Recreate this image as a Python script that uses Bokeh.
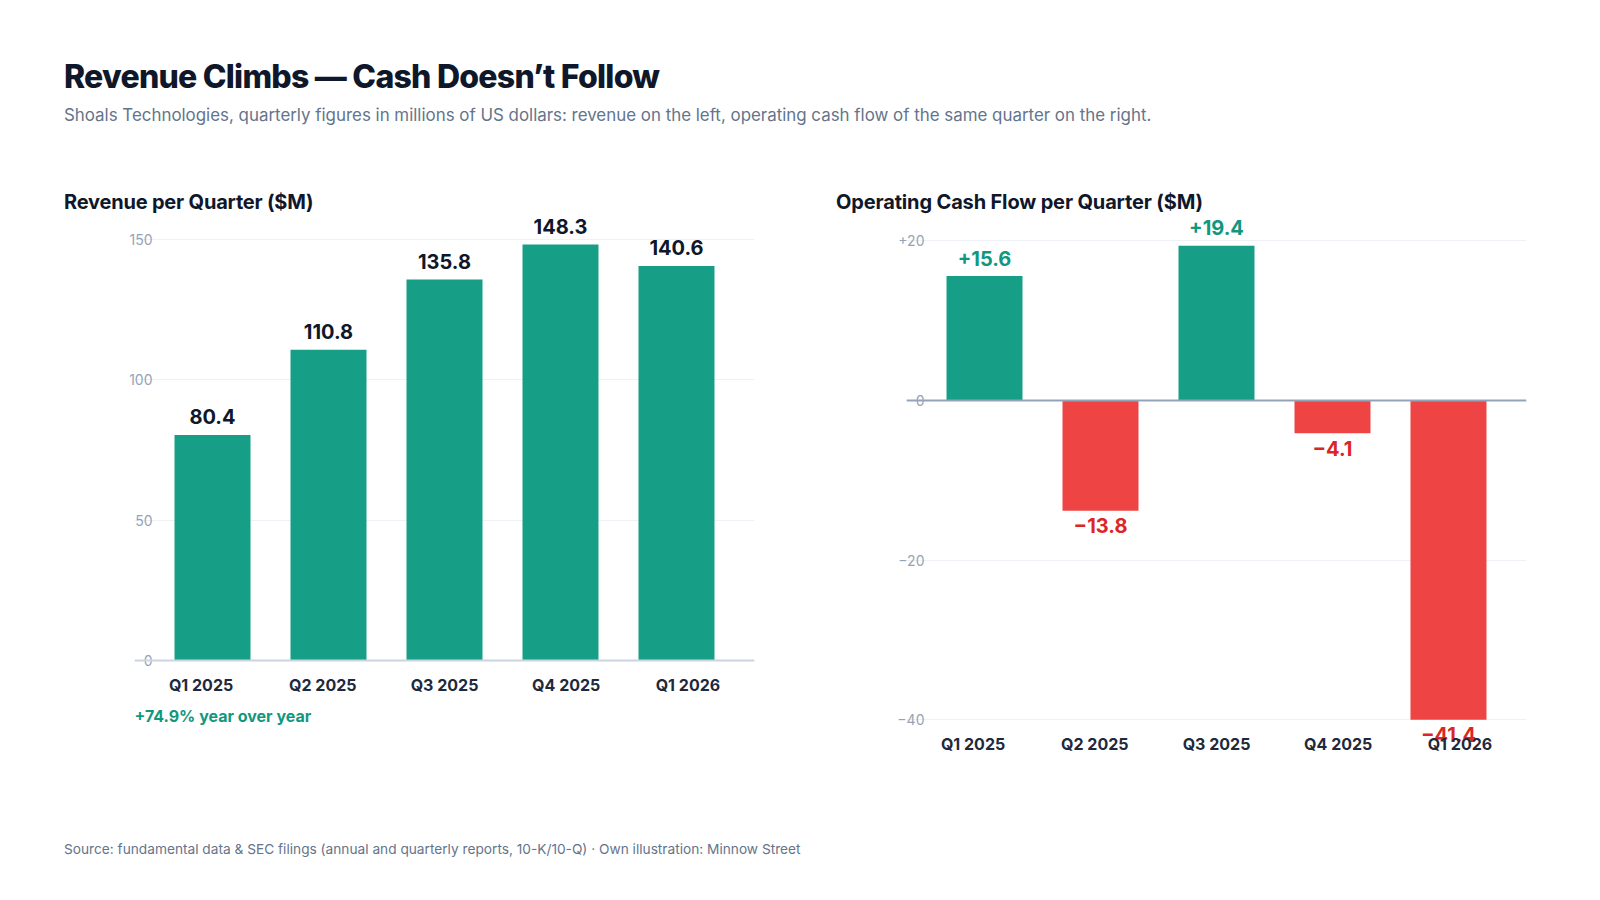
from bokeh.plotting import figure
from bokeh.models import (ColumnDataSource, FactorRange, Range1d, FixedTicker,
                          CategoricalAxis, LabelSet, Span, Div, Grid)
from bokeh.layouts import column, row
from bokeh.embed import file_html
from bokeh.resources import INLINE
from bokeh.core.properties import value

# ---------------- data ----------------
quarters = ["Q1 2025", "Q2 2025", "Q3 2025", "Q4 2025", "Q1 2026"]
revenue = [80.4, 110.8, 135.8, 148.3, 140.6]
cash_flow = [15.6, -13.8, 19.4, -4.1, -41.4]
revenue_ticks = [0, 50, 100, 150]
cash_ticks = [20, 0, -20, -40]
cash_tick_labels = ["+20", "0", "\u221220", "\u221240"]
yoy_note = ["+74.9% year over year"]

title_text = "Revenue Climbs \u2014 Cash Doesn\u2019t Follow"
subtitle_text = ("Shoals Technologies, quarterly figures in millions of US dollars: "
                 "revenue on the left, operating cash flow of the same quarter on the right.")
left_title = "Revenue per Quarter ($M)"
right_title = "Operating Cash Flow per Quarter ($M)"
source_text = ("Source: fundamental data &amp; SEC filings (annual and quarterly reports, "
               "10-K/10-Q) \u00b7 Own illustration: Minnow Street")

# ---------------- styles ----------------
FONT = "Inter"
GREEN = "#169e87"
GREEN_TXT = "#12977f"
RED = "#ef4444"
RED_TXT = "#dc2626"
DARK = "#0f172a"
AXIS_DARK = "#1e293b"
TICK_GREY = "#94a3b8"
GRID = "#eef1f5"
HEADER_H = 214
FIG_H = 600
BORDER_BOTTOM = 62
REV_RANGE = (-32.8, 159.0)
CASH_AXIS_MIN = -40
CASH_RANGE = (-44.1, 23.31)


def fmt_signed(v):
    return ("+" if v >= 0 else "\u2212") + f"{abs(v):.1f}"


def make_fig(width, y_range, border_left, border_right, label_standoff):
    p = figure(width=width, height=FIG_H, title=None,
               x_range=FactorRange(factors=quarters, range_padding=0.1725,
                                   range_padding_units="absolute"),
               y_range=Range1d(*y_range), output_backend="svg", toolbar_location=None,
               x_axis_location=None,
               min_border_left=border_left, min_border_right=border_right,
               min_border_top=0, min_border_bottom=BORDER_BOTTOM)
    p.extra_x_ranges = {"lab": FactorRange(factors=quarters, range_padding=0.047,
                                           range_padding_units="absolute")}
    ax = CategoricalAxis(x_range_name="lab")
    ax.axis_line_color = None
    ax.major_tick_line_color = None
    ax.minor_tick_line_color = None
    ax.major_label_standoff = label_standoff
    ax.major_label_text_font = FONT
    ax.major_label_text_font_size = "16px"
    ax.major_label_text_font_style = "bold"
    ax.major_label_text_color = AXIS_DARK
    p.add_layout(ax, "below")
    for g in p.select(type=Grid):
        if g.dimension == 0:
            g.visible = False
    p.outline_line_color = None
    p.background_fill_color = "white"
    p.border_fill_color = "white"
    p.yaxis.axis_line_color = None
    p.yaxis.major_tick_line_color = None
    p.yaxis.minor_tick_line_color = None
    p.yaxis.major_label_standoff = -24
    p.yaxis.major_label_text_font = FONT
    p.yaxis.major_label_text_font_size = "14px"
    p.yaxis.major_label_text_color = TICK_GREY
    p.ygrid.grid_line_color = GRID
    p.ygrid.grid_line_width = 1
    return p


def value_labels(src, color, offset, level="annotation"):
    return LabelSet(x="q", y="v", text="t", source=src, text_align="center",
                    text_baseline="middle", y_offset=offset, text_font=value(FONT),
                    text_font_size="20px", text_font_style="bold",
                    text_color=color, level=level)


# ---------------- left: revenue ----------------
p1 = make_fig(780, REV_RANGE, 134, 26, -84)
p1.yaxis.ticker = FixedTicker(ticks=revenue_ticks)
p1.ygrid.ticker = FixedTicker(ticks=revenue_ticks)

rev_src = ColumnDataSource(dict(q=quarters, v=revenue,
                                t=[f"{v:.1f}" for v in revenue]))
p1.vbar(x="q", top="v", bottom=0, width=0.655, source=rev_src,
        fill_color=GREEN, line_color=None)
p1.add_layout(Span(location=0, dimension="width", line_color="#cbd5e1", line_width=2))
p1.add_layout(value_labels(rev_src, DARK, 18.5))
note_src = ColumnDataSource(dict(q=quarters[:1], v=[0], t=yoy_note))
p1.add_layout(LabelSet(x="q", y="v", text="t", source=note_src, text_align="left",
                       text_baseline="middle", x_offset=-78, y_offset=-56,
                       text_font=value(FONT), text_font_size="16px",
                       text_font_style="bold", text_color=GREEN_TXT))

# ---------------- right: operating cash flow ----------------
p2 = make_fig(820, CASH_RANGE, 126, 74, -25)
p2.yaxis.ticker = FixedTicker(ticks=cash_ticks)
p2.ygrid.ticker = FixedTicker(ticks=cash_ticks)
p2.yaxis.major_label_overrides = dict(zip(cash_ticks, cash_tick_labels))

cash_colors = [GREEN if v >= 0 else RED for v in cash_flow]
cash_shown = [max(v, CASH_AXIS_MIN) for v in cash_flow]  # bars end at the axis minimum
cash_src = ColumnDataSource(dict(q=quarters, v=cash_shown, c=cash_colors))
p2.vbar(x="q", top="v", bottom=0, width=0.655, source=cash_src,
        fill_color="c", line_color=None)
p2.add_layout(Span(location=0, dimension="width", line_color=TICK_GREY, line_width=2))

pos = [i for i, v in enumerate(cash_flow) if v >= 0]
neg = [i for i, v in enumerate(cash_flow) if v < 0]
pos_src = ColumnDataSource(dict(q=[quarters[i] for i in pos],
                                v=[cash_shown[i] for i in pos],
                                t=[fmt_signed(cash_flow[i]) for i in pos]))
neg_src = ColumnDataSource(dict(q=[quarters[i] for i in neg],
                                v=[cash_shown[i] for i in neg],
                                t=[fmt_signed(cash_flow[i]) for i in neg]))
p2.add_layout(value_labels(pos_src, GREEN_TXT, 18))
p2.add_layout(value_labels(neg_src, RED_TXT, -15, level="glyph"))

# ---------------- header / footer ----------------
header_html = f"""
<div style="position:relative;width:1600px;height:{HEADER_H}px;font-family:Inter,sans-serif;">
  <div style="position:absolute;left:64px;top:57px;line-height:40px;font-size:32px;font-weight:800;
              color:{DARK};letter-spacing:-0.75px;white-space:nowrap;">{title_text}</div>
  <div style="position:absolute;left:64px;top:103px;line-height:24px;font-size:16.9px;font-weight:400;
              color:#64748b;white-space:nowrap;">{subtitle_text}</div>
  <div style="position:absolute;left:64px;top:191px;line-height:22px;font-size:20px;font-weight:700;
              color:{DARK};letter-spacing:-0.2px;white-space:nowrap;">{left_title}</div>
  <div style="position:absolute;left:836px;top:191px;line-height:22px;font-size:20px;font-weight:700;
              color:{DARK};letter-spacing:-0.15px;white-space:nowrap;">{right_title}</div>
</div>"""
header = Div(text=header_html, width=1600, height=HEADER_H, margin=0)

footer_html = f"""
<div style="position:relative;width:1600px;height:70px;font-family:Inter,sans-serif;">
  <div style="position:absolute;left:64px;top:25px;line-height:20px;font-size:13.7px;
              color:#64748b;white-space:nowrap;">{source_text}</div>
</div>"""
footer = Div(text=footer_html, width=1600, height=70, margin=0)

layout = column(header, row(p1, p2, spacing=0), footer, spacing=0)

with open("out.html", "w") as f:
    f.write(file_html(layout, INLINE, title="Revenue Climbs — Cash Doesn’t Follow"))
